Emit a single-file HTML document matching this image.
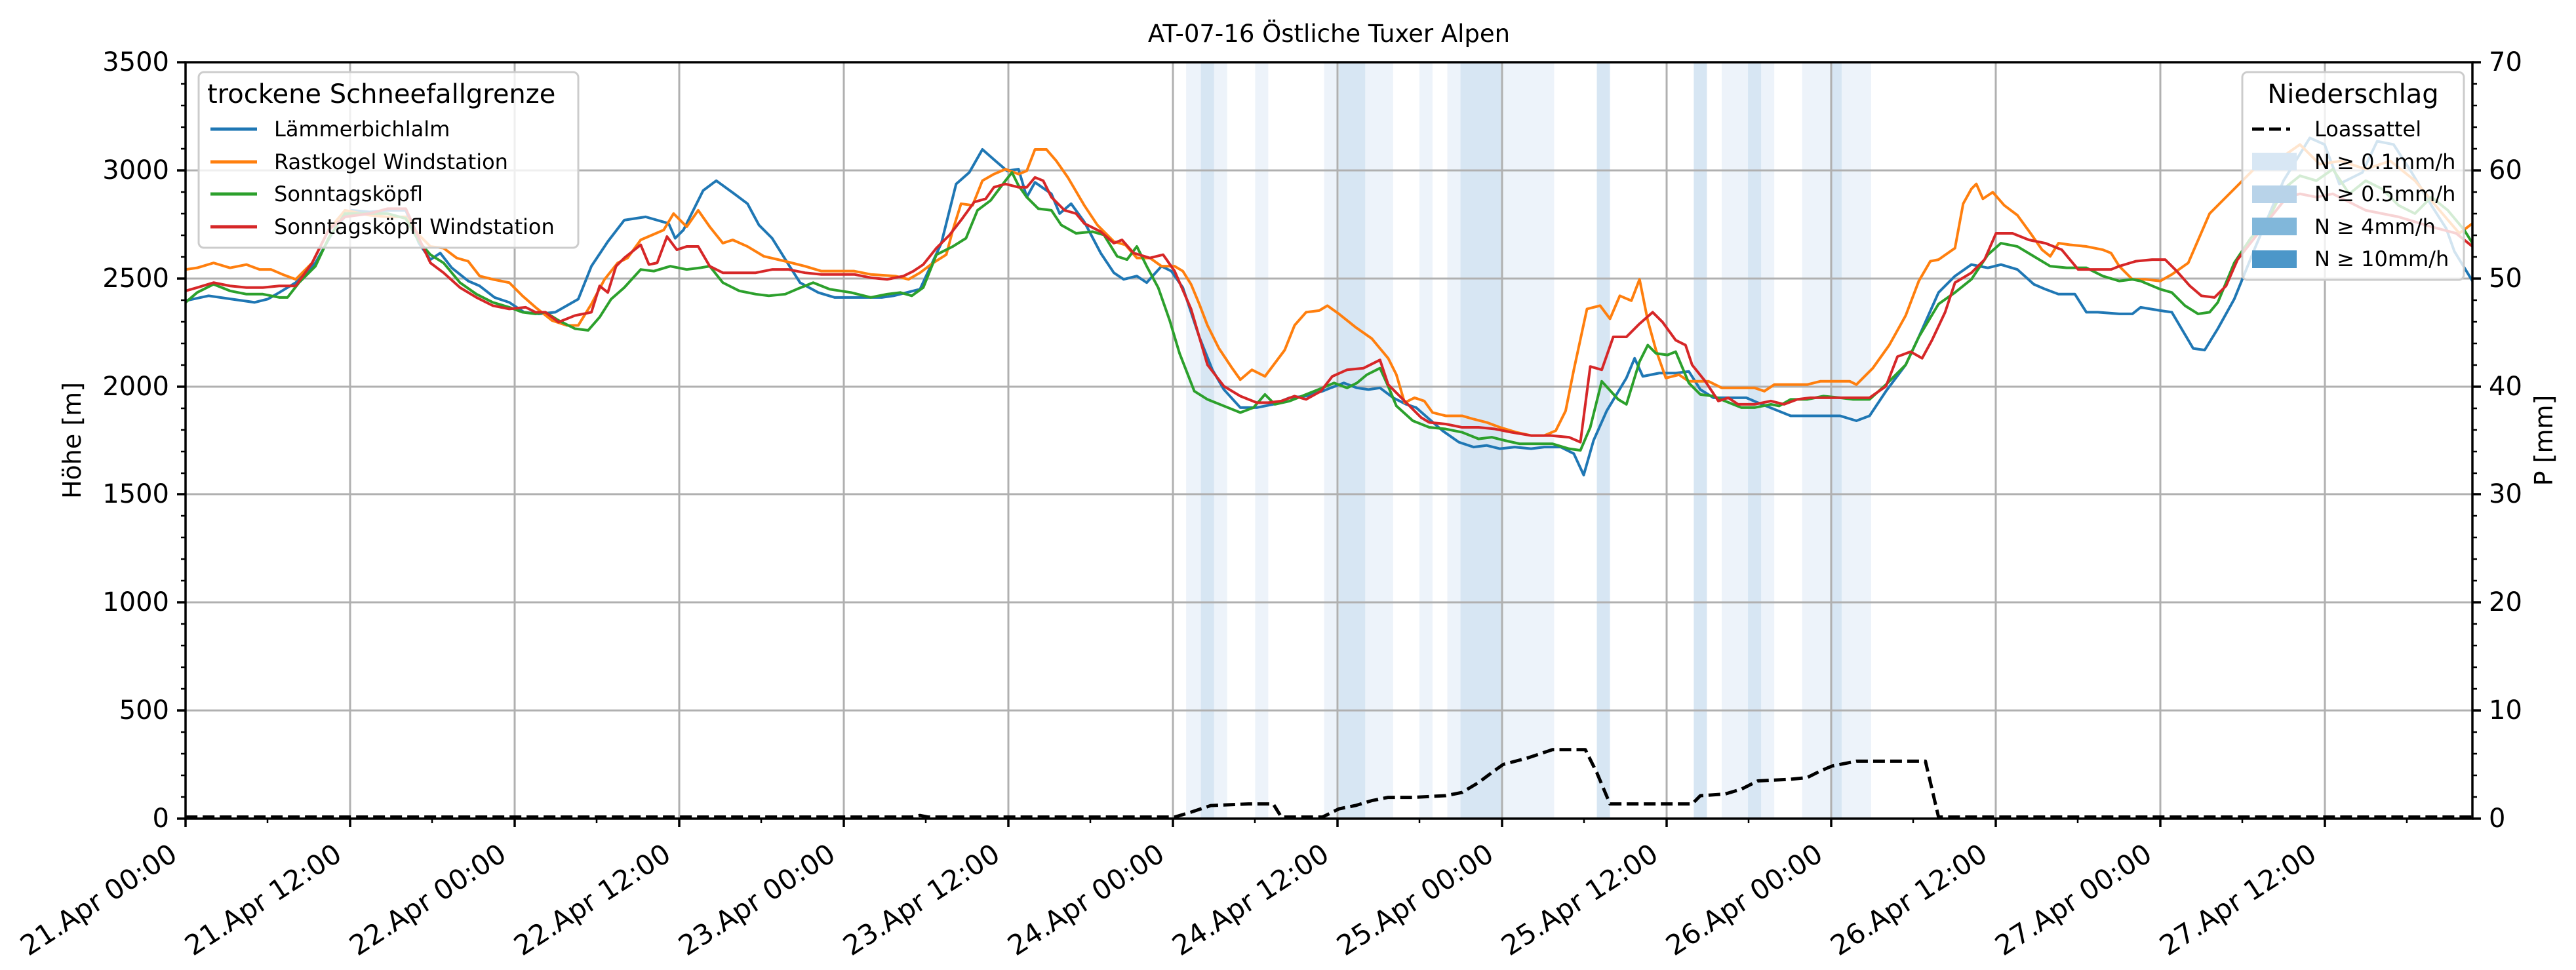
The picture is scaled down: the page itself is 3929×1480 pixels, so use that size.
<!DOCTYPE html>
<html><head><meta charset="utf-8"><style>
html,body{margin:0;padding:0;background:#fff}
svg{display:block}
text{font-family:"DejaVu Sans","Liberation Sans",sans-serif;fill:#000}
</style></head><body>
<svg width="3929" height="1480" viewBox="0 0 3929 1480" xmlns="http://www.w3.org/2000/svg">
<rect width="3929" height="1480" fill="#fff"/>
<g transform="translate(0,-0.3) scale(2.5057,2.509)">
 <g fill="#edf3fa">
  <rect x="722" y="38" width="25" height="460"/>
  <rect x="764" y="38" width="8" height="460"/>
  <rect x="806" y="38" width="42" height="460"/>
  <rect x="864" y="38" width="8" height="460"/>
  <rect x="881" y="38" width="65" height="460"/>
  <rect x="1048" y="38" width="32" height="460"/>
  <rect x="1097" y="38" width="42" height="460"/>
 </g>
 <g fill="#d7e6f3">
  <rect x="731" y="38" width="8" height="460"/>
  <rect x="815" y="38" width="16" height="460"/>
  <rect x="889" y="38" width="25" height="460"/>
  <rect x="972" y="38" width="8" height="460"/>
  <rect x="1031" y="38" width="8" height="460"/>
  <rect x="1064" y="38" width="8" height="460"/>
  <rect x="1114" y="38" width="7" height="460"/>
 </g>
</g>
<g stroke="#b0b0b0" stroke-width="3">
 <line x1="283" y1="260" x2="3771" y2="260"/>
 <line x1="283" y1="425" x2="3771" y2="425"/>
 <line x1="283" y1="590" x2="3771" y2="590"/>
 <line x1="283" y1="754" x2="3771" y2="754"/>
 <line x1="283" y1="919" x2="3771" y2="919"/>
 <line x1="283" y1="1084" x2="3771" y2="1084"/>
 <line x1="534" y1="95" x2="534" y2="1249"/>
 <line x1="785" y1="95" x2="785" y2="1249"/>
 <line x1="1036" y1="95" x2="1036" y2="1249"/>
 <line x1="1287" y1="95" x2="1287" y2="1249"/>
 <line x1="1538" y1="95" x2="1538" y2="1249"/>
 <line x1="1789" y1="95" x2="1789" y2="1249"/>
 <line x1="2040" y1="95" x2="2040" y2="1249"/>
 <line x1="2291" y1="95" x2="2291" y2="1249"/>
 <line x1="2542" y1="95" x2="2542" y2="1249"/>
 <line x1="2793" y1="95" x2="2793" y2="1249"/>
 <line x1="3044" y1="95" x2="3044" y2="1249"/>
 <line x1="3295" y1="95" x2="3295" y2="1249"/>
 <line x1="3546" y1="95" x2="3546" y2="1249"/>
</g>
<g transform="translate(0,-0.3) scale(2.5057,2.509)" fill="none" stroke-linejoin="round">
<polyline vector-effect="non-scaling-stroke" stroke="#1f77b4" stroke-width="4" points="113,183 127,180 141,182 155,184 163,182 170,178 180,172 192,160 205,137 214,128 225,129 236,128 247,128 255,148 262,158 268,154 275,163 285,171 292,174 301,181 310,184 319,190 328,191 338,190 345,186 352,182 360,162 370,147 380,134 393,132 407,136 411,145 416,140 428,116 436,110 447,118 455,124 462,137 470,145 480,161 487,172 498,178 508,181 520,181 537,181 544,180 560,176 573,148 582,112 590,105 598,91 606,98 613,104 620,103 625,120 630,111 640,118 645,130 652,124 660,135 670,154 678,166 684,170 692,168 698,172 707,162 713,165 720,175 730,205 738,225 745,237 755,248 765,248 775,246 785,242 795,241 805,238 810,236 818,233 826,236 833,237 840,236 848,242 856,246 862,248 870,255 878,262 888,269 897,272 905,271 913,273 922,272 932,273 940,272 950,272 958,276 964,289 970,268 978,250 990,230 995,218 1000,229 1010,227 1020,227 1028,226 1035,237 1043,242 1053,242 1063,242 1070,245 1080,249 1090,253 1100,253 1110,253 1120,253 1130,256 1138,253 1148,238 1160,222 1168,205 1180,178 1190,168 1200,161 1210,163 1218,161 1228,164 1238,173 1245,176 1253,179 1263,179 1270,190 1277,190 1290,191 1298,191 1303,187 1315,189 1322,190 1335,212 1342,213 1350,200 1360,182 1373,150 1390,110 1406,84 1415,88 1424,112 1438,105 1447,86 1457,88 1468,105 1480,125 1489,139 1494,153 1505,171"/>
<polyline vector-effect="non-scaling-stroke" stroke="#ff7f0e" stroke-width="4" points="113,164 120,163 130,160 140,163 150,161 158,164 165,164 172,167 180,170 190,160 200,140 210,128 225,131 236,132 247,132 255,143 262,150 270,151 278,157 285,159 292,168 300,170 310,172 318,180 326,187 336,195 345,198 352,198 360,185 368,170 376,160 382,157 390,146 397,143 404,140 410,130 418,138 425,128 432,138 440,148 446,146 455,150 465,156 478,159 490,162 500,165 520,165 530,167 545,168 553,170 560,166 568,160 576,155 580,140 585,124 592,125 598,110 605,106 612,103 620,106 625,104 630,91 637,91 643,98 650,108 660,125 668,137 678,147 685,149 692,157 700,157 707,162 715,162 720,165 725,173 730,185 735,198 742,212 750,224 755,231 762,225 770,229 776,221 782,213 788,198 795,190 803,189 808,186 815,191 825,199 835,206 840,212 845,218 850,228 855,245 861,242 867,244 872,251 880,253 890,253 897,255 905,257 913,260 923,263 932,265 940,265 947,262 953,250 958,225 966,188 974,186 980,194 986,180 993,183 998,170 1003,195 1008,213 1014,230 1022,228 1028,232 1040,232 1048,236 1058,236 1068,236 1074,238 1080,234 1088,234 1100,234 1108,232 1118,232 1126,232 1130,234 1140,224 1150,210 1160,192 1168,171 1175,159 1180,158 1190,151 1195,124 1200,115 1203,112 1207,121 1213,117 1220,125 1228,131 1236,142 1243,152 1248,156 1253,148 1260,149 1270,150 1280,152 1285,154 1290,162 1298,170 1306,170 1315,171 1322,167 1332,160 1345,130 1360,115 1375,100 1390,95 1400,88 1412,100 1425,98 1440,103 1455,98 1470,110 1485,128 1497,142 1505,136"/>
<polyline vector-effect="non-scaling-stroke" stroke="#2ca02c" stroke-width="4" points="113,184 120,178 130,173 140,177 150,179 160,179 170,181 175,181 182,172 192,162 200,145 210,130 225,130 236,130 247,133 255,147 262,155 270,160 280,172 290,179 300,184 310,187 318,190 326,191 332,190 340,195 350,200 358,201 365,193 372,182 380,175 390,164 398,165 408,162 418,164 426,163 432,162 440,172 450,177 460,179 468,180 478,179 485,176 495,172 505,176 518,178 530,181 540,179 548,178 555,180 562,175 570,155 580,150 588,145 595,128 603,122 612,110 616,105 620,113 625,120 632,127 640,128 646,137 655,142 665,141 672,143 680,156 686,158 692,150 698,162 705,175 712,195 718,215 727,238 735,243 745,247 755,251 763,248 770,240 776,246 785,244 795,240 805,236 812,233 820,236 826,233 832,228 840,224 845,235 850,247 860,256 870,260 880,261 890,263 900,267 908,266 916,268 925,270 935,270 945,270 955,273 962,274 968,260 975,232 985,243 990,246 998,220 1003,210 1008,215 1015,216 1020,214 1028,233 1035,240 1043,241 1050,244 1060,248 1068,248 1078,246 1083,247 1090,243 1100,243 1110,241 1120,242 1128,243 1138,243 1148,234 1160,222 1168,205 1180,185 1190,178 1200,170 1210,155 1218,148 1228,150 1238,156 1248,162 1258,163 1270,163 1280,168 1290,171 1298,170 1303,171 1315,176 1322,178 1330,186 1338,191 1345,190 1350,184 1360,160 1370,145 1380,135 1390,115 1400,107 1410,110 1420,103 1430,118 1440,110 1450,115 1460,125 1470,130 1480,120 1490,128 1500,140 1505,148"/>
<polyline vector-effect="non-scaling-stroke" stroke="#d62728" stroke-width="4" points="113,177 120,175 130,172 140,174 150,175 160,175 170,174 180,174 190,160 200,140 210,132 225,130 236,127 247,127 255,145 262,160 270,166 280,175 290,181 300,186 310,188 320,187 326,190 332,190 340,196 350,192 360,190 365,174 370,178 375,162 380,157 390,149 395,161 400,160 406,144 412,152 418,150 425,150 432,162 440,166 450,166 460,166 470,164 480,164 490,166 500,167 510,167 520,167 530,169 540,170 550,168 556,165 562,161 570,151 578,143 585,134 593,123 600,121 605,114 612,112 620,114 625,114 630,108 635,110 640,120 648,128 655,130 660,136 670,141 678,148 683,146 690,154 700,157 708,155 715,165 725,188 735,222 745,235 755,241 765,245 772,245 780,244 788,241 795,243 804,238 811,229 820,225 830,224 840,219 845,234 855,244 865,254 870,257 880,258 890,260 900,260 910,261 920,263 932,265 944,265 955,266 962,269 968,223 975,225 982,205 990,205 998,197 1006,190 1012,196 1020,207 1026,210 1030,222 1038,232 1046,244 1052,242 1058,246 1068,246 1078,244 1086,246 1094,243 1102,242 1115,242 1125,242 1138,242 1148,235 1155,217 1163,214 1170,218 1176,207 1184,190 1190,172 1200,166 1208,158 1215,142 1225,142 1235,146 1245,148 1255,152 1265,164 1275,164 1285,164 1290,162 1300,159 1310,158 1318,158 1325,165 1333,174 1340,180 1348,181 1355,174 1362,158 1380,135 1392,120 1400,118 1410,120 1420,118 1440,128 1460,132 1480,138 1495,142 1505,150"/>
<polyline vector-effect="non-scaling-stroke" stroke="#000" stroke-width="5" stroke-dasharray="18,8" points="113,497 555,497 560,496 565,497 715,497 725,494 737,490 760,489 775,489 780,497 805,497 815,492 825,490 835,487 845,485 860,485 880,484 890,482 900,476 908,470 915,465 930,461 945,456 965,456 972,470 980,489 1000,489 1030,489 1035,484 1050,483 1060,480 1070,475 1090,474 1100,473 1108,469 1115,466 1130,463 1150,463 1172,463 1180,497 1505,497"/>
</g>
<rect x="283" y="95" width="3488" height="1154" fill="none" stroke="#000" stroke-width="3.5"/>
<g stroke="#000" stroke-width="3.5">
 <line x1="270" y1="95" x2="283" y2="95"/><line x1="270" y1="260" x2="283" y2="260"/><line x1="270" y1="425" x2="283" y2="425"/><line x1="270" y1="590" x2="283" y2="590"/><line x1="270" y1="754" x2="283" y2="754"/><line x1="270" y1="919" x2="283" y2="919"/><line x1="270" y1="1084" x2="283" y2="1084"/><line x1="270" y1="1249" x2="283" y2="1249"/>
 <line x1="3771" y1="95" x2="3784" y2="95"/><line x1="3771" y1="260" x2="3784" y2="260"/><line x1="3771" y1="425" x2="3784" y2="425"/><line x1="3771" y1="590" x2="3784" y2="590"/><line x1="3771" y1="754" x2="3784" y2="754"/><line x1="3771" y1="919" x2="3784" y2="919"/><line x1="3771" y1="1084" x2="3784" y2="1084"/><line x1="3771" y1="1249" x2="3784" y2="1249"/>
 <line x1="283" y1="1249" x2="283" y2="1262"/><line x1="534" y1="1249" x2="534" y2="1262"/><line x1="785" y1="1249" x2="785" y2="1262"/><line x1="1036" y1="1249" x2="1036" y2="1262"/><line x1="1287" y1="1249" x2="1287" y2="1262"/><line x1="1538" y1="1249" x2="1538" y2="1262"/><line x1="1789" y1="1249" x2="1789" y2="1262"/><line x1="2040" y1="1249" x2="2040" y2="1262"/><line x1="2291" y1="1249" x2="2291" y2="1262"/><line x1="2542" y1="1249" x2="2542" y2="1262"/><line x1="2793" y1="1249" x2="2793" y2="1262"/><line x1="3044" y1="1249" x2="3044" y2="1262"/><line x1="3295" y1="1249" x2="3295" y2="1262"/><line x1="3546" y1="1249" x2="3546" y2="1262"/>
</g>
<g stroke="#000" stroke-width="2.5">
<path d="M276 128H283M276 161H283M276 194H283M276 227H283M276 293H283M276 326H283M276 359H283M276 392H283M276 458H283M276 491H283M276 524H283M276 557H283M276 623H283M276 656H283M276 689H283M276 722H283M276 787H283M276 820H283M276 853H283M276 886H283M276 952H283M276 985H283M276 1018H283M276 1051H283M276 1117H283M276 1150H283M276 1183H283M276 1216H283"/>
<path d="M3771 128H3778M3771 161H3778M3771 194H3778M3771 227H3778M3771 293H3778M3771 326H3778M3771 359H3778M3771 392H3778M3771 458H3778M3771 491H3778M3771 524H3778M3771 557H3778M3771 623H3778M3771 656H3778M3771 689H3778M3771 722H3778M3771 787H3778M3771 820H3778M3771 853H3778M3771 886H3778M3771 952H3778M3771 985H3778M3771 1018H3778M3771 1051H3778M3771 1117H3778M3771 1150H3778M3771 1183H3778M3771 1216H3778"/>
<path d="M408 1249V1256M659 1249V1256M910 1249V1256M1161 1249V1256M1412 1249V1256M1663 1249V1256M1914 1249V1256M2165 1249V1256M2416 1249V1256M2667 1249V1256M2918 1249V1256M3169 1249V1256M3420 1249V1256M3671 1249V1256"/>
</g>
<g font-size="40" text-anchor="end" dominant-baseline="central">
<text x="258" y="95">3500</text><text x="258" y="260">3000</text><text x="258" y="425">2500</text><text x="258" y="590">2000</text><text x="258" y="754">1500</text><text x="258" y="919">1000</text><text x="258" y="1084">500</text><text x="258" y="1249">0</text>
</g>
<g font-size="40" dominant-baseline="central">
<text x="3796" y="95">70</text><text x="3796" y="260">60</text><text x="3796" y="425">50</text><text x="3796" y="590">40</text><text x="3796" y="754">30</text><text x="3796" y="919">20</text><text x="3796" y="1084">10</text><text x="3796" y="1249">0</text>
</g>
<text font-size="38" text-anchor="middle" transform="translate(123,672) rotate(-90)">Höhe [m]</text>
<text font-size="38" text-anchor="middle" transform="translate(3893,672) rotate(-90)">P [mm]</text>
<text font-size="37" text-anchor="middle" x="2027" y="64">AT-07-16 Östliche Tuxer Alpen</text>
<g font-size="42" text-anchor="end" dominant-baseline="hanging">
<text transform="translate(256,1284) rotate(-33)">21.Apr 00:00</text>
<text transform="translate(507,1284) rotate(-33)">21.Apr 12:00</text>
<text transform="translate(758,1284) rotate(-33)">22.Apr 00:00</text>
<text transform="translate(1009,1284) rotate(-33)">22.Apr 12:00</text>
<text transform="translate(1260,1284) rotate(-33)">23.Apr 00:00</text>
<text transform="translate(1511,1284) rotate(-33)">23.Apr 12:00</text>
<text transform="translate(1762,1284) rotate(-33)">24.Apr 00:00</text>
<text transform="translate(2013,1284) rotate(-33)">24.Apr 12:00</text>
<text transform="translate(2264,1284) rotate(-33)">25.Apr 00:00</text>
<text transform="translate(2515,1284) rotate(-33)">25.Apr 12:00</text>
<text transform="translate(2766,1284) rotate(-33)">26.Apr 00:00</text>
<text transform="translate(3017,1284) rotate(-33)">26.Apr 12:00</text>
<text transform="translate(3268,1284) rotate(-33)">27.Apr 00:00</text>
<text transform="translate(3519,1284) rotate(-33)">27.Apr 12:00</text>
</g>
<rect x="303" y="110" width="579" height="268" rx="8" fill="#fff" fill-opacity="0.8" stroke="#cccccc" stroke-width="3"/>
<text x="316" y="157" font-size="40">trockene Schneefallgrenze</text>
<g stroke-width="5">
<line x1="321" y1="197" x2="392" y2="197" stroke="#1f77b4"/>
<line x1="321" y1="247" x2="392" y2="247" stroke="#ff7f0e"/>
<line x1="321" y1="296" x2="392" y2="296" stroke="#2ca02c"/>
<line x1="321" y1="346" x2="392" y2="346" stroke="#d62728"/>
</g>
<g font-size="32" dominant-baseline="central">
<text x="418" y="197">Lämmerbichlalm</text>
<text x="418" y="247">Rastkogel Windstation</text>
<text x="418" y="296">Sonntagsköpfl</text>
<text x="418" y="346">Sonntagsköpfl Windstation</text>
</g>
<rect x="3420" y="110" width="338" height="317" rx="8" fill="#fff" fill-opacity="0.8" stroke="#cccccc" stroke-width="3"/>
<text x="3589" y="157" font-size="40" text-anchor="middle">Niederschlag</text>
<line x1="3435" y1="197" x2="3493" y2="197" stroke="#000" stroke-width="5" stroke-dasharray="18,8"/>
<rect x="3435" y="233" width="68" height="27" fill="#d8e7f4"/>
<rect x="3435" y="283" width="68" height="27" fill="#b8d3e9"/>
<rect x="3435" y="332" width="68" height="27" fill="#81b7da"/>
<rect x="3435" y="382" width="68" height="27" fill="#4c97c9"/>
<g font-size="32" dominant-baseline="central">
<text x="3530" y="197">Loassattel</text>
<text x="3530" y="247">N ≥ 0.1mm/h</text>
<text x="3530" y="296">N ≥ 0.5mm/h</text>
<text x="3530" y="346">N ≥ 4mm/h</text>
<text x="3530" y="395">N ≥ 10mm/h</text>
</g>
</svg>
</body></html>
